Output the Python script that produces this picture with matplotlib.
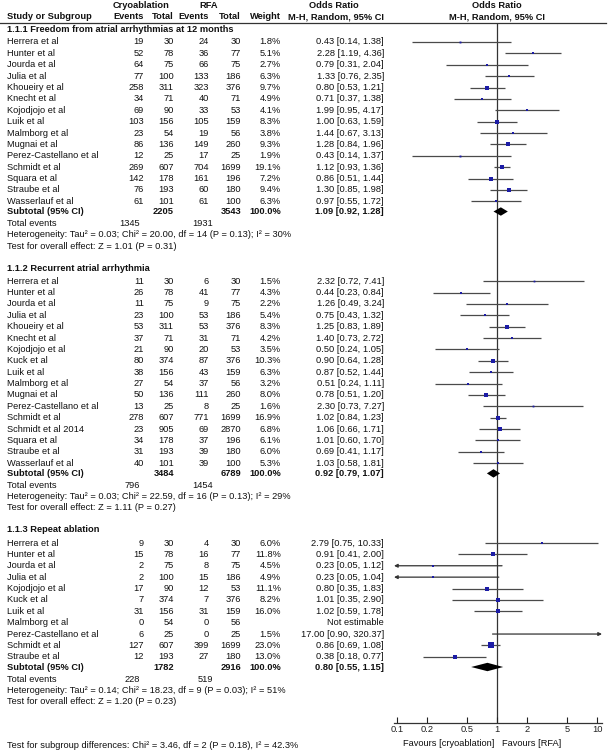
import numpy as np
import matplotlib
matplotlib.use("Agg")
import matplotlib.pyplot as plt
from matplotlib.ticker import NullLocator

# ---------------- data ----------------
sub_titles = ["1.1.1 Freedom from atrial arrhythmias at 12 months",
              "1.1.2 Recurrent atrial arrhythmia",
              "1.1.3 Repeat ablation"]

names1 = ["Herrera et al", "Hunter et al", "Jourda et al", "Julia et al", "Khoueiry et al",
          "Knecht et al", "Kojodjojo et al", "Luik et al", "Malmborg et al", "Mugnai et al",
          "Perez-Castellano et al", "Schmidt et al", "Squara et al", "Straube et al",
          "Wasserlauf et al"]
cryo_e1 = [19, 52, 64, 77, 258, 34, 69, 103, 23, 86, 12, 269, 142, 76, 61]
cryo_t1 = [30, 78, 75, 100, 311, 71, 90, 156, 54, 136, 25, 607, 178, 193, 101]
rfa_e1 = [24, 36, 66, 133, 323, 40, 33, 105, 19, 149, 17, 704, 161, 60, 61]
rfa_t1 = [30, 77, 75, 186, 376, 71, 53, 159, 56, 260, 25, 1699, 196, 180, 100]
w1 = [1.8, 5.1, 2.7, 6.3, 9.7, 4.9, 4.1, 8.3, 3.8, 9.3, 1.9, 19.1, 7.2, 9.4, 6.3]
or1 = [0.43, 2.28, 0.79, 1.33, 0.80, 0.71, 1.99, 1.00, 1.44, 1.28, 0.43, 1.12, 0.86, 1.30, 0.97]
lo1 = [0.14, 1.19, 0.31, 0.76, 0.53, 0.37, 0.95, 0.63, 0.67, 0.84, 0.14, 0.93, 0.51, 0.85, 0.55]
hi1 = [1.38, 4.36, 2.04, 2.35, 1.21, 1.38, 4.17, 1.59, 3.13, 1.96, 1.37, 1.36, 1.44, 1.98, 1.72]

names2 = ["Herrera et al", "Hunter et al", "Jourda et al", "Julia et al", "Khoueiry et al",
          "Knecht et al", "Kojodjojo et al", "Kuck et al", "Luik et al", "Malmborg et al",
          "Mugnai et al", "Perez-Castellano et al", "Schmidt et al", "Schmidt et al 2014",
          "Squara et al", "Straube et al", "Wasserlauf et al"]
cryo_e2 = [11, 26, 11, 23, 53, 37, 21, 80, 38, 27, 50, 13, 278, 23, 34, 31, 40]
cryo_t2 = [30, 78, 75, 100, 311, 71, 90, 374, 156, 54, 136, 25, 607, 905, 178, 193, 101]
rfa_e2 = [6, 41, 9, 53, 53, 31, 20, 87, 43, 37, 111, 8, 771, 69, 37, 39, 39]
rfa_t2 = [30, 77, 75, 186, 376, 71, 53, 376, 159, 56, 260, 25, 1699, 2870, 196, 180, 100]
w2 = [1.5, 4.3, 2.2, 5.4, 8.3, 4.2, 3.5, 10.3, 6.3, 3.2, 8.0, 1.6, 16.9, 6.8, 6.1, 6.0, 5.3]
or2 = [2.32, 0.44, 1.26, 0.75, 1.25, 1.40, 0.50, 0.90, 0.87, 0.51, 0.78, 2.30, 1.02, 1.06, 1.01, 0.69, 1.03]
lo2 = [0.72, 0.23, 0.49, 0.43, 0.83, 0.73, 0.24, 0.64, 0.52, 0.24, 0.51, 0.73, 0.84, 0.66, 0.60, 0.41, 0.58]
hi2 = [7.41, 0.84, 3.24, 1.32, 1.89, 2.72, 1.05, 1.28, 1.44, 1.11, 1.20, 7.27, 1.23, 1.71, 1.70, 1.17, 1.81]

names3 = ["Herrera et al", "Hunter et al", "Jourda et al", "Julia et al", "Kojodjojo et al",
          "Kuck et al", "Luik et al", "Malmborg et al", "Perez-Castellano et al",
          "Schmidt et al", "Straube et al"]
cryo_e3 = [9, 15, 2, 2, 17, 7, 31, 0, 6, 127, 12]
cryo_t3 = [30, 78, 75, 100, 90, 374, 156, 54, 25, 607, 193]
rfa_e3 = [4, 16, 8, 15, 12, 7, 31, 0, 0, 399, 27]
rfa_t3 = [30, 77, 75, 186, 53, 376, 159, 56, 25, 1699, 180]
w3 = [6.0, 11.8, 4.5, 4.9, 11.1, 8.2, 16.0, None, 1.5, 23.0, 13.0]
or3 = [2.79, 0.91, 0.23, 0.23, 0.80, 1.01, 1.02, None, 17.00, 0.86, 0.38]
lo3 = [0.75, 0.41, 0.05, 0.05, 0.35, 0.35, 0.59, None, 0.90, 0.69, 0.18]
hi3 = [10.33, 2.00, 1.12, 1.04, 1.83, 2.90, 1.78, None, 320.37, 1.08, 0.77]

sub_cryo_total = [2205, 3484, 1782]
sub_rfa_total = [3543, 6789, 2916]
sub_or = [1.09, 0.92, 0.80]
sub_lo = [0.92, 0.79, 0.55]
sub_hi = [1.28, 1.07, 1.15]
tot_cryo_events = [1345, 796, 228]
tot_rfa_events = [1931, 1454, 519]
tau2 = [0.03, 0.03, 0.14]
chi2 = [20.00, 22.59, 18.23]
dfs = [14, 16, 9]
p_het = [0.13, 0.13, 0.03]
i2 = [30, 29, 51]
z_val = [1.01, 1.11, 1.20]
p_z = [0.31, 0.27, 0.23]

sgd_chi2, sgd_df, sgd_p, sgd_i2 = 3.46, 2, 0.18, 42.3

tick_vals = [0.1, 0.2, 0.5, 1, 2, 5, 10]
tick_labels = ["0.1", "0.2", "0.5", "1", "2", "5", "10"]
favours_left = "Favours [cryoablation]"
favours_right = "Favours [RFA]"

sections = [
    (names1, cryo_e1, cryo_t1, rfa_e1, rfa_t1, w1, or1, lo1, hi1),
    (names2, cryo_e2, cryo_t2, rfa_e2, rfa_t2, w2, or2, lo2, hi2),
    (names3, cryo_e3, cryo_t3, rfa_e3, rfa_t3, w3, or3, lo3, hi3),
]

# ---------------- style ----------------
FS = 6.7
plt.rcParams["font.family"] = ["Liberation Sans", "DejaVu Sans"]

TXT = "#111111"
LINE = "#4a4a4a"
SQ = "#1c1ca6"

W, H = 611, 752
fig = plt.figure(figsize=(W / 100, H / 100), dpi=100)
ax = fig.add_axes([0, 0, 1, 1])
ax.set_xlim(0, W)
ax.set_ylim(H, 0)
ax.axis("off")

# forest axes (log scale)
AX_L, AX_R, AX_T, AX_B = 394, 602, 22.5, 723
fa = fig.add_axes([AX_L / W, (H - AX_B) / H, (AX_R - AX_L) / W, (AX_B - AX_T) / H])
fa.set_facecolor("none")
fa.set_xscale("log")
XMIN, XMAX = 0.093, 11.2
fa.set_xlim(XMIN, XMAX)
fa.set_ylim(AX_B, AX_T)
for s in ["top", "left", "right"]:
    fa.spines[s].set_visible(False)
fa.spines["bottom"].set_color("#333333")
fa.spines["bottom"].set_linewidth(0.9)
fa.set_xticks(tick_vals)
fa.set_xticklabels(tick_labels)
fa.xaxis.set_minor_locator(NullLocator())
fa.tick_params(axis="x", direction="in", length=4, width=0.8, pad=1.5,
               labelsize=FS, colors="#222222")
fa.set_yticks([])
fa.axvline(1, color="#333333", lw=0.9, zorder=1)

# column right edges
X_NAME = 7
X_CE, X_CT, X_RE, X_RT, X_W, X_OR = 144, 174, 209, 241, 281, 384
X_TCE, X_TRE = 140, 213


def t(x, y, s, ha="left", bold=False, size=FS):
    ax.text(x, y, s, ha=ha, va="center", fontsize=size, color=TXT,
            fontweight="bold" if bold else "normal")


# headers
t(141, 6, "Cryoablation", ha="center", bold=True)
t(209, 6, "RFA", ha="center", bold=True)
t(334, 6, "Odds Ratio", ha="center", bold=True)
t(497, 6, "Odds Ratio", ha="center", bold=True)
t(X_NAME, 16.8, "Study or Subgroup", bold=True)
t(X_CE, 16.8, "Events", ha="right", bold=True)
t(X_CT, 16.8, "Total", ha="right", bold=True)
t(X_RE, 16.8, "Events", ha="right", bold=True)
t(X_RT, 16.8, "Total", ha="right", bold=True)
t(X_W, 16.8, "Weight", ha="right", bold=True)
t(X_OR, 16.8, "M-H, Random, 95% CI", ha="right", bold=True)
t(497, 16.8, "M-H, Random, 95% CI", ha="center", bold=True)
ax.plot([0, 606], [22.5, 22.5], color="#333333", lw=0.9)

SP = 11.38
y = 29.0
for k, (nm, ce, ct, re_, rt, ww, orv, lov, hiv) in enumerate(sections):
    t(X_NAME, y, sub_titles[k], bold=True)
    y += 13.0
    for i in range(len(nm)):
        t(X_NAME, y, nm[i])
        t(X_CE, y, str(ce[i]), ha="right")
        t(X_CT, y, str(ct[i]), ha="right")
        t(X_RE, y, str(re_[i]), ha="right")
        t(X_RT, y, str(rt[i]), ha="right")
        if orv[i] is None:
            t(X_OR, y, "Not estimable", ha="right")
        else:
            t(X_W, y, f"{ww[i]:.1f}%", ha="right")
            t(X_OR, y, f"{orv[i]:.2f} [{lov[i]:.2f}, {hiv[i]:.2f}]", ha="right")
            lo_c = max(lov[i], XMIN)
            hi_c = min(hiv[i], XMAX)
            if lov[i] < XMIN:
                fa.annotate("", xy=(XMIN, y), xytext=(hi_c, y),
                            arrowprops=dict(arrowstyle="-|>", color="#333333", lw=0.9,
                                            mutation_scale=5, shrinkA=0, shrinkB=0),
                            annotation_clip=False)
            elif hiv[i] > XMAX:
                fa.annotate("", xy=(XMAX, y), xytext=(lo_c, y),
                            arrowprops=dict(arrowstyle="-|>", color="#333333", lw=0.9,
                                            mutation_scale=5, shrinkA=0, shrinkB=0),
                            annotation_clip=False)
            else:
                fa.plot([lo_c, hi_c], [y, y], color=LINE, lw=0.9, zorder=2,
                        solid_capstyle="butt")
            if XMIN <= orv[i] <= XMAX:
                side_px = 0.6 + 0.95 * np.sqrt(ww[i])
                fa.plot([orv[i]], [y], marker="s", ms=side_px * 0.72, color=SQ,
                        mec=SQ, mew=0, zorder=3, linestyle="none")
        y += SP
    # subtotal
    y += -SP + 10.2
    t(X_NAME, y, "Subtotal (95% CI)", bold=True)
    t(X_CT, y, str(sub_cryo_total[k]), ha="right", bold=True)
    t(X_RT, y, str(sub_rfa_total[k]), ha="right", bold=True)
    t(X_W, y, "100.0%", ha="right", bold=True)
    t(X_OR, y, f"{sub_or[k]:.2f} [{sub_lo[k]:.2f}, {sub_hi[k]:.2f}]", ha="right", bold=True)
    fa.fill([sub_lo[k], sub_or[k], sub_hi[k], sub_or[k]], [y, y - 4.2, y, y + 4.2],
            color="black", zorder=3, lw=0)
    y += 12.0
    t(X_NAME, y, "Total events")
    t(X_TCE, y, str(tot_cryo_events[k]), ha="right")
    t(X_TRE, y, str(tot_rfa_events[k]), ha="right")
    y += 11.3
    t(X_NAME, y, f"Heterogeneity: Tau\u00b2 = {tau2[k]:.2f}; Chi\u00b2 = {chi2[k]:.2f}, "
                 f"df = {dfs[k]} (P = {p_het[k]:.2f}); I\u00b2 = {i2[k]}%")
    y += 11.3
    t(X_NAME, y, f"Test for overall effect: Z = {z_val[k]:.2f} (P = {p_z[k]:.2f})")
    y += 22.0

t(X_NAME, 745, f"Test for subgroup differences: Chi\u00b2 = {sgd_chi2:.2f}, df = {sgd_df} "
               f"(P = {sgd_p:.2f}), I\u00b2 = {sgd_i2:.1f}%")
t(494, 743, favours_left, ha="right", bold=False)
t(502, 743, favours_right, ha="left", bold=False)

fig.savefig("out.png", dpi=100)
